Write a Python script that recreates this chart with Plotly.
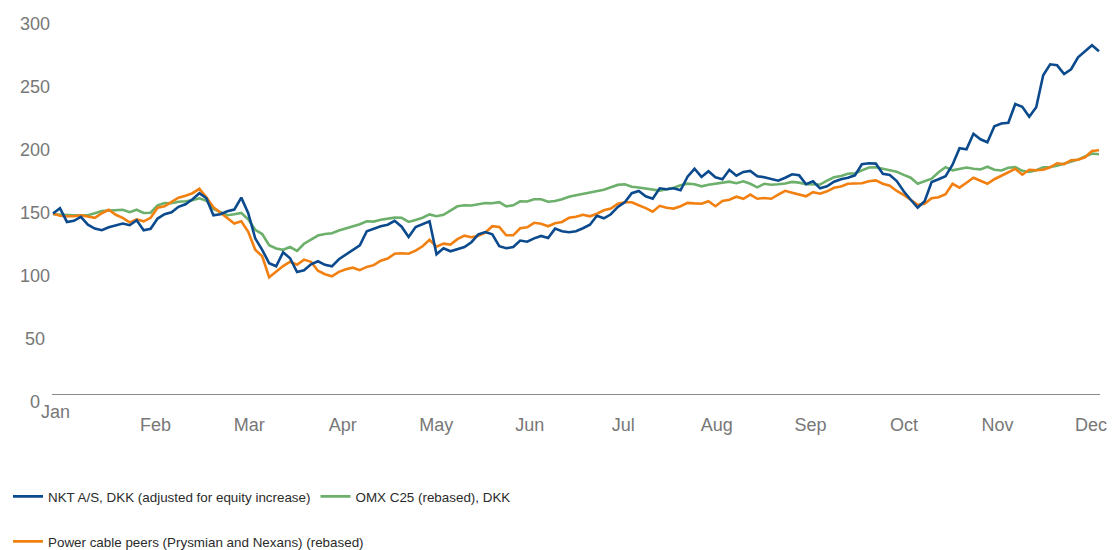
import numpy as np
import plotly.graph_objects as go

# ---------------- data ----------------
months = ["Jan", "Feb", "Mar", "Apr", "May", "Jun", "Jul", "Aug", "Sep", "Oct", "Nov", "Dec"]
y_ticks = [0, 50, 100, 150, 200, 250, 300]

nkt = [149.6, 153.8, 142.9, 143.8, 146.9, 140.7, 137.6, 136.3, 138.7, 140.3,
       141.6, 140.3, 144.2, 136.3, 137.5, 145.6, 149.0, 150.6, 154.9, 156.9,
       160.9, 165.7, 161.7, 148.2, 149.0, 151.4, 152.7, 162.2, 149.8, 129.9,
       120.8, 110.1, 107.7, 118.8, 114.1, 103.2, 104.6, 109.3, 111.7, 108.9,
       107.7, 113.3, 117.2, 121.2, 124.4, 135.5, 137.5, 139.5, 140.7, 143.8,
       139.1, 131.0, 138.9, 141.1, 143.4, 117.2, 122.0, 119.6, 121.2, 123.0,
       126.8, 133.1, 134.9, 133.1, 123.6, 122.0, 123.0, 128.1, 127.2, 129.9,
       131.8, 130.1, 137.6, 135.5, 134.7, 135.5, 137.9, 140.7, 147.8, 145.8,
       149.0, 154.8, 158.5, 165.7, 167.5, 163.3, 161.3, 169.6, 168.8, 169.6,
       168.0, 178.8, 185.1, 178.6, 183.1, 178.4, 176.8, 184.3, 179.6, 182.6,
       183.4, 179.2, 178.4, 177.2, 175.6, 178.0, 180.7, 179.9, 172.8, 175.2,
       169.6, 171.2, 174.8, 176.8, 178.0, 179.9, 188.7, 189.5, 189.2, 181.1,
       180.2, 175.4, 167.2, 160.5, 154.3, 159.3, 174.6, 176.8, 179.2, 188.3,
       201.4, 200.6, 212.9, 208.5, 206.1, 218.8, 221.0, 221.6, 236.5, 234.3,
       226.4, 233.9, 259.3, 268.0, 267.2, 260.3, 264.1, 273.6, 278.4, 283.1,
       278.4]

omx = [149.0, 148.6, 148.2, 148.2, 148.2, 148.2, 149.8, 151.6, 151.9, 152.2,
       152.6, 150.6, 152.6, 150.0, 150.2, 156.1, 157.9, 157.7, 158.9, 159.3,
       160.1, 161.7, 159.7, 153.2, 151.0, 148.2, 149.0, 150.0, 145.0, 136.7,
       133.3, 124.4, 121.8, 120.8, 123.0, 120.0, 125.6, 128.8, 132.1, 133.4,
       133.9, 136.1, 137.7, 139.3, 141.1, 143.4, 143.2, 144.7, 145.4, 146.3,
       146.2, 142.9, 144.5, 146.2, 148.9, 147.4, 148.6, 152.3, 155.3, 156.1,
       156.0, 156.9, 157.9, 157.7, 158.6, 155.3, 156.1, 159.3, 159.1, 160.9,
       160.9, 158.9, 159.5, 160.9, 162.9, 164.1, 165.3, 166.2, 167.5, 168.4,
       170.4, 172.3, 172.8, 170.8, 170.2, 169.2, 168.4, 167.8, 168.8, 170.0,
       172.0, 173.3, 172.8, 171.2, 172.4, 173.3, 174.0, 174.9, 173.6, 175.2,
       173.2, 170.4, 173.2, 172.4, 172.8, 173.4, 174.7, 174.1, 172.8, 172.8,
       172.6, 175.7, 178.4, 179.4, 181.1, 181.5, 183.5, 186.1, 186.3, 185.2,
       184.2, 182.7, 180.3, 178.0, 173.2, 175.2, 177.3, 182.3, 186.4, 183.9,
       185.1, 186.1, 185.1, 184.6, 186.7, 184.3, 183.7, 185.9, 186.4, 183.5,
       182.6, 183.9, 186.3, 186.5, 187.5, 189.1, 191.1, 192.4, 194.8, 197.2,
       196.6]

peers = [149.6, 147.8, 147.4, 147.4, 148.2, 147.4, 146.2, 149.8, 152.6, 148.6,
         146.2, 142.6, 145.0, 143.4, 146.2, 154.2, 155.3, 158.9, 162.1, 163.7,
         165.7, 169.2, 162.5, 154.6, 150.2, 145.8, 141.6, 143.4, 135.1, 120.8,
         115.7, 99.0, 103.3, 107.9, 111.3, 108.9, 113.0, 111.3, 104.2, 101.4,
         99.8, 103.3, 105.4, 106.6, 104.6, 107.2, 108.6, 112.2, 113.8, 117.7,
         118.1, 117.7, 120.1, 123.6, 128.8, 123.3, 125.7, 124.9, 129.2, 132.0,
         130.8, 132.0, 134.5, 139.5, 138.9, 132.3, 132.3, 137.9, 138.7, 142.2,
         141.5, 139.5, 141.9, 142.9, 146.2, 147.0, 148.6, 147.4, 149.4, 152.2,
         153.5, 157.4, 158.5, 158.5, 156.1, 153.9, 151.0, 155.7, 154.2, 153.5,
         155.4, 158.0, 157.6, 157.4, 159.4, 155.4, 159.5, 160.5, 162.9, 161.3,
         164.6, 161.3, 161.9, 161.3, 164.5, 167.6, 166.1, 165.0, 163.3, 166.5,
         165.3, 167.2, 170.0, 171.0, 173.2, 173.4, 173.6, 175.2, 175.9, 173.2,
         171.6, 167.5, 164.4, 160.5, 156.5, 157.3, 161.7, 162.5, 164.9, 173.2,
         170.1, 174.0, 178.0, 175.6, 173.2, 176.8, 179.6, 182.4, 185.1, 180.4,
         184.3, 183.9, 184.3, 186.3, 189.5, 188.7, 191.9, 192.3, 194.2, 199.2,
         199.8]

name_nkt = "NKT A/S, DKK (adjusted for equity increase)"
name_omx = "OMX C25 (rebased), DKK"
name_peers = "Power cable peers (Prysmian and Nexans) (rebased)"

# ---------------- style ----------------
BLUE = "#0b4a8c"
GREEN = "#6cb06b"
ORANGE = "#f28011"
AXIS_TXT = "#777777"
FONT = "Liberation Sans, Arial, sans-serif"

# figure is shown inside the page body (8px default margin), so size it to fit the window
W, H = 1107, 542
M_L, M_R, M_T, M_B = 44, 11, 8, 148
plot_w = W - M_L - M_R
plot_h = H - M_T - M_B

# time position of each observation, in months from start of January
x_pos = np.linspace(-0.097, 11.085, len(nkt))

fig = go.Figure()
fig.add_trace(go.Scatter(x=x_pos, y=omx, name=name_omx, mode="lines",
                         line=dict(color=GREEN, width=2.6),
                         legend="legend", legendrank=2))
fig.add_trace(go.Scatter(x=x_pos, y=peers, name=name_peers, mode="lines",
                         line=dict(color=ORANGE, width=2.6),
                         legend="legend2"))
fig.add_trace(go.Scatter(x=x_pos, y=nkt, name=name_nkt, mode="lines",
                         line=dict(color=BLUE, width=2.6),
                         legend="legend", legendrank=1))

annotations = []
for v in y_ticks:
    annotations.append(dict(x=-16.7 / plot_w, xref="paper", y=v, yref="y", text=str(v),
                            showarrow=False, xanchor="center", yanchor="middle",
                            font=dict(family=FONT, size=18, color=AXIS_TXT)))
annotations.append(dict(x=-0.072, xref="x", y=-9.7 / plot_h, yref="paper",
                        text=months[0], showarrow=False, xanchor="center", yanchor="middle",
                        font=dict(family=FONT, size=18, color=AXIS_TXT)))

legend_common = dict(orientation="h", xref="container", yref="container",
                     xanchor="left", yanchor="middle", bgcolor="rgba(0,0,0,0)",
                     font=dict(family=FONT, size=13.4, color="#2b2b2b"),
                     itemclick=False, itemdoubleclick=False)

fig.update_layout(
    width=W, height=H,
    margin=dict(l=M_L, r=M_R, t=M_T, b=M_B),
    paper_bgcolor="white", plot_bgcolor="white",
    font=dict(family=FONT),
    showlegend=True,
    legend=dict(x=-4.7 / W, y=1 - 488.7 / H, **legend_common),
    legend2=dict(x=-4.7 / W, y=1 - 533.7 / H, **legend_common),
    xaxis=dict(range=[-0.1076, 11.096], anchor="free", position=7.7 / plot_h,
               showline=True, linecolor="#8a8a8a", linewidth=1,
               showgrid=False, zeroline=False, ticks="",
               tickmode="array", tickvals=list(range(1, 12)), ticktext=months[1:],
               tickfont=dict(family=FONT, size=18, color=AXIS_TXT),
               ticklabelstandoff=14),
    yaxis=dict(range=[0, plot_h / 1.26], showticklabels=False, showgrid=False,
               zeroline=False, showline=False, ticks=""),
    annotations=annotations,
)

fig.write_html("out.html")
